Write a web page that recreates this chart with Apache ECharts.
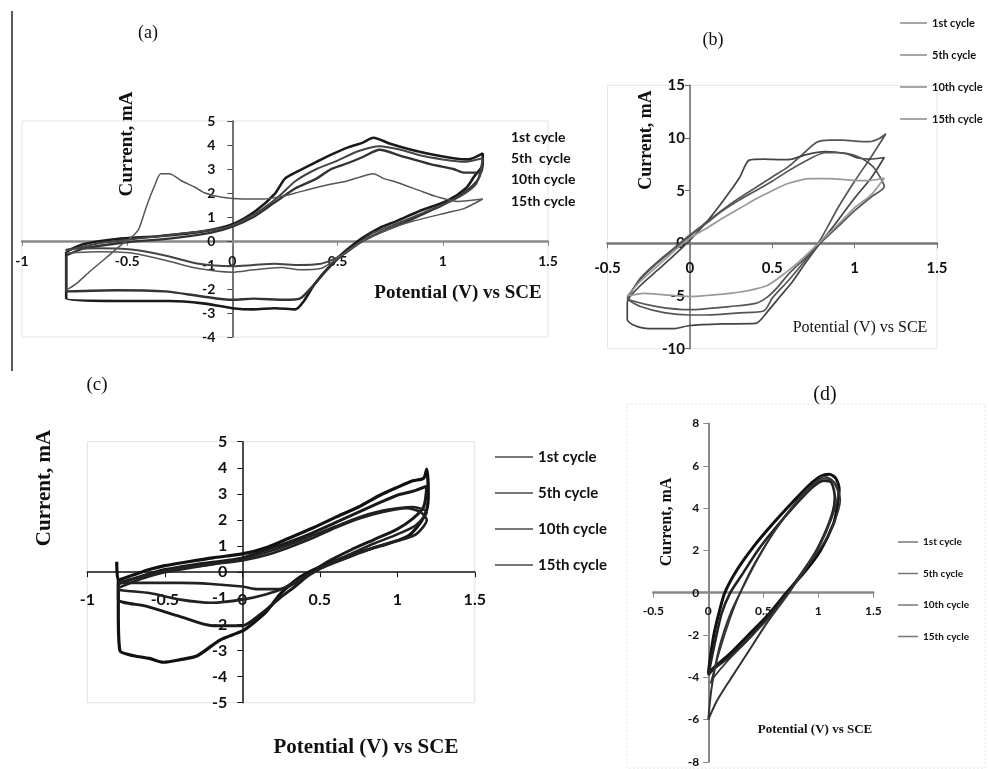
<!DOCTYPE html>
<html>
<head>
<meta charset="utf-8">
<script src="https://cdn.jsdelivr.net/npm/echarts@6/dist/echarts.min.js"></script>
<style>
html, body { margin: 0; padding: 0; background: #fff; }
#chart { width: 989px; height: 769px; }
</style>
</head>
<body>
<div id="chart"></div>
<script>
// legend labels (panel a has its own spacing in "5th  cycle")
var cycleNames = ['1st cycle', '5th cycle', '10th cycle', '15th cycle'];
var cycleNamesA = ['1st cycle', '5th  cycle', '10th cycle', '15th cycle'];

// tick labels of each panel
var aXTicks = [-1, -0.5, 0, 0.5, 1, 1.5];
var aYTicks = [-4, -3, -2, -1, 0, 1, 2, 3, 4, 5];
var bXTicks = [-0.5, 0, 0.5, 1, 1.5];
var bYTicks = [-10, -5, 0, 5, 10, 15];
var cXTicks = [-1, -0.5, 0, 0.5, 1, 1.5];
var cYTicks = [-5, -4, -3, -2, -1, 0, 1, 2, 3, 4, 5];
var dXTicks = [-0.5, 0, 0.5, 1, 1.5];
var dYTicks = [-8, -6, -4, -2, 0, 2, 4, 6, 8];

// panel (a): [potential V, current mA]
var a1st = [[-0.79,-0.45],[-0.71,-0.14],[-0.55,0.08],[-0.35,0.2],[-0.14,0.4],[0,0.7],[0.11,1.25],[0.2,1.95],[0.25,2.6],[0.31,2.9],[0.4,3.3],[0.47,3.6],[0.55,3.9],[0.62,4.1],[0.67,4.3],[0.75,4.05],[0.85,3.8],[0.95,3.6],[1.05,3.45],[1.12,3.4],[1.19,3.65],
  [1.19,3.2],[1.15,2.7],[1.11,2.2],[1.02,1.67],[0.89,1.25],[0.78,0.83],[0.7,0.55],[0.62,0.14],[0.54,-0.4],[0.47,-0.97],[0.39,-1.8],[0.34,-2.5],[0.3,-2.85],[0.2,-2.8],[0.1,-2.85],[0,-2.8],[-0.14,-2.6],[-0.3,-2.5],[-0.55,-2.5],[-0.79,-2.4],[-0.79,-0.45]];
var a5th = [[-0.79,-0.6],[-0.7,-0.3],[-0.5,-0.05],[-0.3,0.1],[-0.1,0.35],[0,0.6],[0.1,1.0],[0.2,1.6],[0.3,2.2],[0.4,2.6],[0.47,3.0],[0.55,3.25],[0.62,3.5],[0.7,3.8],[0.8,3.55],[0.94,3.2],[1.05,3.0],[1.1,2.85],[1.18,2.85],[1.19,3.3],
  [1.17,2.6],[1.1,2.0],[1.0,1.5],[0.9,1.1],[0.8,0.7],[0.7,0.35],[0.6,-0.1],[0.52,-0.6],[0.45,-1.2],[0.38,-1.9],[0.32,-2.4],[0.25,-2.45],[0.1,-2.4],[0,-2.45],[-0.15,-2.3],[-0.32,-2.1],[-0.55,-2.05],[-0.79,-2.1],[-0.79,-0.6]];
var a10th = [[-0.79,-0.4],[-0.64,-0.1],[-0.45,0.1],[-0.25,0.3],[-0.1,0.45],[0,0.65],[0.12,1.2],[0.22,1.85],[0.3,2.5],[0.4,3.0],[0.5,3.35],[0.6,3.75],[0.7,3.95],[0.8,3.8],[0.9,3.55],[1.0,3.4],[1.1,3.3],[1.19,3.45],
  [1.16,2.4],[1.08,1.85],[0.98,1.45],[0.86,1.0],[0.76,0.65],[0.66,0.3],[0.6,-0.1],[0.53,-0.55],[0.47,-0.8],[0.42,-0.95],[0.32,-1.0],[0.2,-0.95],[0.1,-1.0],[0,-1.05],[-0.16,-0.95],[-0.32,-0.6],[-0.48,-0.35],[-0.64,-0.3],[-0.79,-0.35],[-0.79,-0.4]];
var a15th = [[-0.79,-2.05],[-0.745,-1.8],[-0.675,-1.25],[-0.6,-0.7],[-0.52,-0.1],[-0.48,0.15],[-0.445,0.5],[-0.41,1.4],[-0.37,2.3],[-0.34,2.8],[-0.3,2.8],[-0.24,2.5],[-0.18,2.25],[-0.13,2.0],[-0.05,1.82],[0.05,1.75],[0.15,1.75],[0.23,1.85],[0.3,2.0],[0.385,2.2],[0.46,2.35],[0.545,2.5],[0.62,2.7],[0.67,2.8],[0.72,2.6],[0.78,2.45],[0.89,2.1],[0.97,1.85],[1.07,1.65],[1.19,1.75],
  [1.1,1.35],[1.02,1.18],[0.86,0.83],[0.76,0.55],[0.68,0.25],[0.62,0.0],[0.55,-0.4],[0.47,-0.9],[0.42,-1.15],[0.32,-1.2],[0.23,-1.1],[0.1,-1.2],[0,-1.3],[-0.16,-1.15],[-0.32,-0.8],[-0.48,-0.5],[-0.64,-0.45],[-0.79,-0.5]];

// panel (b)
var b1st = [[-0.38,-5.3],[-0.3,-3.3],[-0.2,-1.8],[-0.1,-0.5],[0,0.8],[0.1,2.0],[0.2,3.2],[0.3,4.3],[0.4,5.3],[0.5,6.3],[0.6,7.3],[0.68,8.4],[0.77,9.6],[0.85,9.8],[0.93,9.8],[1.0,9.7],[1.09,9.65],[1.15,9.95],[1.19,10.4],
  [1.1,8.2],[1.0,5.9],[0.9,3.4],[0.79,0.3],[0.7,-1.6],[0.6,-3.5],[0.5,-5.2],[0.45,-6.4],[0.3,-6.6],[0.1,-6.8],[0,-6.8],[-0.15,-6.6],[-0.3,-6.0],[-0.38,-5.3]];
var b5th = [[-0.38,-7.3],[-0.38,-5.6],[-0.3,-4.0],[-0.2,-2.6],[-0.1,-1.2],[0,0.3],[0.1,2.0],[0.2,4.0],[0.3,6.2],[0.36,7.9],[0.45,8.0],[0.55,7.95],[0.62,8.0],[0.7,8.4],[0.82,8.7],[0.95,8.5],[1.02,8.1],[1.09,8.0],[1.18,8.15],
  [1.1,6.2],[1.0,4.3],[0.9,2.2],[0.79,0],[0.7,-1.9],[0.62,-3.7],[0.55,-5.0],[0.47,-6.5],[0.4,-7.6],[0.2,-7.65],[0,-7.8],[-0.1,-8.1],[-0.2,-8.1],[-0.28,-8.05],[-0.35,-7.7],[-0.38,-7.3]];
var b10th = [[-0.38,-5.1],[-0.3,-3.4],[-0.2,-1.9],[-0.1,-0.6],[0,0.7],[0.1,1.9],[0.2,3.1],[0.3,4.1],[0.4,5.0],[0.5,5.9],[0.6,6.9],[0.7,7.8],[0.82,8.6],[0.92,8.6],[0.99,8.4],[1.05,8.0],[1.11,7.3],[1.15,6.4],[1.18,5.4],
  [1.1,4.4],[1.0,3.1],[0.9,1.6],[0.79,0],[0.7,-1.4],[0.6,-2.9],[0.53,-4.2],[0.47,-5.1],[0.4,-5.7],[0.24,-6.0],[0.1,-6.2],[0,-6.3],[-0.2,-6.0],[-0.36,-5.4],[-0.38,-5.1]];
var b15th = [[-0.38,-5.0],[-0.3,-3.6],[-0.2,-2.2],[-0.1,-0.8],[0,0.5],[0.1,1.4],[0.2,2.4],[0.3,3.3],[0.4,4.2],[0.5,5.0],[0.6,5.7],[0.73,6.15],[0.85,6.15],[0.97,6.0],[1.08,5.95],[1.18,6.2],
  [1.1,4.6],[1.0,3.4],[0.9,1.8],[0.78,0],[0.68,-1.5],[0.58,-2.8],[0.47,-4.0],[0.35,-4.5],[0.24,-4.75],[0.1,-4.95],[0,-5.05],[-0.15,-4.9],[-0.28,-4.75],[-0.38,-5.0]];

// panel (c)
var c1st = [[-0.81,0.4],[-0.8,-0.3],[-0.7,-0.1],[-0.6,0.1],[-0.5,0.25],[-0.35,0.4],[-0.19,0.55],[0,0.7],[0.157,0.95],[0.3,1.3],[0.458,1.7],[0.6,2.1],[0.75,2.5],[0.888,2.95],[1.0,3.25],[1.1,3.5],[1.17,3.6],[1.19,3.95],
  [1.2,3.0],[1.19,2.4],[1.15,1.9],[1.06,1.35],[0.888,1.0],[0.673,0.6],[0.5,0.2],[0.37,-0.2],[0.243,-0.85],[0.157,-1.5],[0.06,-2.0],[0,-2.25],[-0.144,-2.6],[-0.29,-3.2],[-0.4,-3.35],[-0.51,-3.45],[-0.6,-3.3],[-0.7,-3.2],[-0.79,-3.0],[-0.8,-1.5],[-0.8,-0.3]];
var c5th = [[-0.8,-0.45],[-0.65,-0.15],[-0.5,0.1],[-0.3,0.3],[-0.1,0.45],[0,0.55],[0.15,0.85],[0.3,1.15],[0.45,1.5],[0.6,1.9],[0.75,2.3],[0.9,2.7],[1.0,2.95],[1.1,3.1],[1.19,3.3],
  [1.17,2.5],[1.1,2.05],[1.0,1.65],[0.85,1.25],[0.7,0.85],[0.55,0.4],[0.45,0.0],[0.35,-0.5],[0.24,-1.0],[0.12,-1.6],[0,-2.05],[-0.19,-2.05],[-0.4,-1.7],[-0.62,-1.3],[-0.8,-1.05],[-0.8,-0.45]];
var c10th = [[-0.8,-0.6],[-0.65,-0.25],[-0.5,0.0],[-0.3,0.2],[-0.1,0.4],[0,0.5],[0.15,0.75],[0.3,1.05],[0.45,1.4],[0.6,1.75],[0.75,2.1],[0.9,2.35],[1.0,2.45],[1.1,2.5],[1.19,2.3],
  [1.12,1.8],[1.0,1.45],[0.85,1.1],[0.7,0.7],[0.55,0.3],[0.42,-0.15],[0.3,-0.55],[0.15,-0.85],[0,-1.05],[-0.2,-1.17],[-0.4,-1.05],[-0.6,-0.8],[-0.8,-0.66],[-0.8,-0.6]];
var c15th = [[-0.8,-0.4],[-0.6,-0.1],[-0.4,0.15],[-0.2,0.3],[0,0.45],[0.15,0.65],[0.3,0.95],[0.45,1.3],[0.6,1.7],[0.75,2.05],[0.9,2.3],[1.06,2.45],[1.15,2.3],[1.19,2.0],
  [1.12,1.45],[1.0,1.2],[0.85,0.95],[0.7,0.6],[0.55,0.25],[0.42,-0.1],[0.33,-0.4],[0.24,-0.65],[0.1,-0.65],[0,-0.55],[-0.2,-0.45],[-0.4,-0.41],[-0.6,-0.41],[-0.8,-0.41],[-0.8,-0.4]];

// panel (d)
var d1st = [[0,-3.8],[0.02,-3.0],[0.05,-2.0],[0.1,-0.9],[0.15,0],[0.26,1.07],[0.41,2.17],[0.59,3.28],[0.77,4.3],[0.92,5.1],[1.02,5.5],[1.1,5.6],[1.16,5.4],[1.19,4.9],[1.17,4.0],
  [1.14,3.28],[1.02,2.0],[0.89,1.07],[0.71,0],[0.53,-1.13],[0.35,-2.08],[0.2,-2.87],[0.08,-3.4],[0,-3.8]];
var d5th = [[0,-3.9],[0.05,-2.6],[0.12,-1.0],[0.2,0],[0.3,0.8],[0.45,2.0],[0.6,3.0],[0.8,4.2],[0.95,5.0],[1.05,5.3],[1.12,5.2],[1.15,4.5],[1.13,3.8],
  [1.05,2.7],[0.95,1.7],[0.72,0],[0.55,-1.1],[0.38,-2.1],[0.2,-3.0],[0.05,-3.6],[0,-3.9]];
var d10th = [[0.02,-4.3],[0.1,-2.8],[0.2,-1.2],[0.29,0],[0.4,1.2],[0.55,2.5],[0.7,3.6],[0.9,4.8],[1.05,5.4],[1.15,5.2],[1.2,4.4],
  [1.1,2.8],[0.95,1.6],[0.73,0],[0.55,-1.2],[0.35,-2.3],[0.18,-3.2],[0.05,-4.0],[0.02,-4.3]];
var d15th = [[0,-6.0],[0.03,-4.5],[0.1,-2.6],[0.2,-1.0],[0.3,0.1],[0.45,1.6],[0.6,2.9],[0.8,4.3],[0.95,5.1],[1.05,5.5],[1.13,5.3],[1.18,4.7],
  [1.12,3.5],[1.0,2.1],[0.85,0.9],[0.72,-0.1],[0.53,-1.45],[0.35,-2.9],[0.2,-4.1],[0.08,-5.1],[0,-6.0]];

var SANS = 'Lato, "DejaVu Sans", sans-serif';
var NARROW = '"Liberation Sans Narrow", Lato, sans-serif';
var SERIF = '"Liberation Serif", "DejaVu Serif", serif';

// plot boxes of the four panels
var grids = [
  { left: 22, top: 121, width: 526, height: 216, show: true, borderColor: '#e2e2e2', borderWidth: 1 },
  { left: 607.5, top: 85.3, width: 329.5, height: 263.4, show: true, borderColor: '#e6e6e6', borderWidth: 1 },
  { left: 87.3, top: 441.7, width: 387.5, height: 261, show: true, borderColor: '#e2e2e2', borderWidth: 1 },
  { left: 653.3, top: 423.5, width: 220, height: 338.4, show: false }
];
grids.forEach(function (g) { g.outerBoundsMode = 'none'; g.containLabel = false; });

function scaleFrom(ticks) {
  return { min: ticks[0], max: ticks[ticks.length - 1], interval: ticks[1] - ticks[0] };
}

// axes cross at zero: shift the whole axis (line, ticks, labels) to where the other axis is 0
function valueAxis(dim, ticks, otherTicks, g, s) {
  var sc = scaleFrom(ticks);
  var other = scaleFrom(otherTicks);
  var span = dim === 'x' ? grids[g].height : grids[g].width;
  var frac = (0 - other.min) / (other.max - other.min);
  return {
    type: 'value', gridIndex: g, min: sc.min, max: sc.max, interval: sc.interval,
    position: dim === 'x' ? 'bottom' : 'left',
    offset: -span * frac,
    splitLine: { show: false },
    axisLine: { show: true, onZero: false, lineStyle: { color: s.color, width: s.width } },
    axisTick: { show: true, length: 5, lineStyle: { color: s.color, width: 1 } },
    axisLabel: { margin: s.margin, fontSize: s.size, fontWeight: 'bold', fontFamily: s.font, color: '#111' }
  };
}

var chart = echarts.init(document.getElementById('chart'));

var series = [];
function addLoop(prefix, name, data, idx, color, width) {
  series.push({
    name: prefix + name, type: 'line', xAxisIndex: idx, yAxisIndex: idx,
    data: data, symbol: 'none', smooth: 0.25, z: 3,
    lineStyle: { color: color, width: width }, itemStyle: { color: color }
  });
}
addLoop('a|', cycleNamesA[0], a1st, 0, '#1a1a1a', 2.6);
addLoop('a|', cycleNamesA[1], a5th, 0, '#333', 2.4);
addLoop('a|', cycleNamesA[2], a10th, 0, '#444', 2);
addLoop('a|', cycleNamesA[3], a15th, 0, '#555', 1.5);
addLoop('b|', cycleNames[0], b1st, 1, '#555', 1.7);
addLoop('b|', cycleNames[1], b5th, 1, '#444', 1.7);
addLoop('b|', cycleNames[2], b10th, 1, '#555', 1.7);
addLoop('b|', cycleNames[3], b15th, 1, '#999', 1.7);
addLoop('c|', cycleNames[0], c1st, 2, '#111', 3.2);
addLoop('c|', cycleNames[1], c5th, 2, '#1a1a1a', 3);
addLoop('c|', cycleNames[2], c10th, 2, '#222', 2.6);
addLoop('c|', cycleNames[3], c15th, 2, '#222', 2.6);
addLoop('d|', cycleNames[0], d1st, 3, '#111', 3);
addLoop('d|', cycleNames[1], d5th, 3, '#222', 2.6);
addLoop('d|', cycleNames[2], d10th, 3, '#333', 1.6);
addLoop('d|', cycleNames[3], d15th, 3, '#333', 2);

function legendNames(prefix, names) {
  return names.map(function (n) { return prefix + n; });
}
function stripPrefix(name) { return name.slice(2); }

chart.setOption({
  backgroundColor: '#fff',
  animation: false,
  grid: grids,
  xAxis: [
    valueAxis('x', aXTicks, aYTicks, 0, { color: '#8a8a8a', width: 2.5, margin: 13, size: 14, font: SANS }),
    valueAxis('x', bXTicks, bYTicks, 1, { color: '#777', width: 2.5, margin: 17, size: 15, font: NARROW }),
    valueAxis('x', cXTicks, cYTicks, 2, { color: '#111', width: 1.5, margin: 20, size: 16, font: SANS }),
    valueAxis('x', dXTicks, dYTicks, 3, { color: '#888', width: 2.5, margin: 12, size: 12, font: NARROW })
  ],
  yAxis: [
    valueAxis('y', aYTicks, aXTicks, 0, { color: '#444', width: 1.5, margin: 17, size: 14, font: SANS }),
    valueAxis('y', bYTicks, bXTicks, 1, { color: '#666', width: 1.5, margin: 5, size: 15, font: NARROW }),
    valueAxis('y', cYTicks, cXTicks, 2, { color: '#111', width: 1.5, margin: 15, size: 16, font: SANS }),
    valueAxis('y', dYTicks, dXTicks, 3, { color: '#888', width: 2, margin: 9, size: 12, font: NARROW })
  ],
  legend: [
    { data: legendNames('a|', cycleNamesA), formatter: stripPrefix, orient: 'vertical', left: 500, top: 125,
      icon: 'none', itemWidth: 1, itemHeight: 14, itemGap: 7.4, selectedMode: false,
      textStyle: { fontSize: 14, fontWeight: 'bold', fontFamily: SANS, color: '#111' } },
    { data: legendNames('b|', cycleNames), formatter: stripPrefix, orient: 'vertical', left: 895, top: 11,
      icon: 'rect', itemWidth: 27, itemHeight: 1.5, itemGap: 18, selectedMode: false,
      itemStyle: { color: '#888' },
      textStyle: { fontSize: 11, fontWeight: 'bold', fontFamily: NARROW, color: '#111', lineHeight: 14 } },
    { data: legendNames('c|', cycleNames), formatter: stripPrefix, orient: 'vertical', left: 490, top: 444,
      icon: 'rect', itemWidth: 38, itemHeight: 2, itemGap: 20, selectedMode: false,
      itemStyle: { color: '#777' },
      textStyle: { fontSize: 15, fontWeight: 'bold', fontFamily: NARROW, color: '#111', lineHeight: 16 } },
    { data: legendNames('d|', cycleNames), formatter: stripPrefix, orient: 'vertical', left: 893, top: 531,
      icon: 'rect', itemWidth: 20, itemHeight: 1.5, itemGap: 19.5, selectedMode: false,
      itemStyle: { color: '#777' },
      textStyle: { fontSize: 10, fontWeight: 'bold', fontFamily: NARROW, color: '#111', lineHeight: 12 } }
  ],
  graphic: [
    { type: 'line', shape: { x1: 12, y1: 11, x2: 12, y2: 371 }, style: { stroke: '#222', lineWidth: 1.5 } },
    { type: 'rect', shape: { x: 627, y: 404, width: 358, height: 364 }, style: { fill: 'none', stroke: '#e4e4e4', lineWidth: 1, lineDash: [2, 2] } },
    { type: 'text', x: 148, y: 33, style: { text: '(a)', font: '18px ' + SERIF, fill: '#111', align: 'center', verticalAlign: 'middle' } },
    { type: 'text', x: 713, y: 40, style: { text: '(b)', font: '18px ' + SERIF, fill: '#111', align: 'center', verticalAlign: 'middle' } },
    { type: 'text', x: 97, y: 385, style: { text: '(c)', font: '19px ' + SERIF, fill: '#111', align: 'center', verticalAlign: 'middle' } },
    { type: 'text', x: 825, y: 395, style: { text: '(d)', font: '20px ' + SERIF, fill: '#111', align: 'center', verticalAlign: 'middle' } },
    { type: 'text', x: 127, y: 144, rotation: Math.PI / 2, style: { text: 'Current, mA', font: 'bold 19px ' + SERIF, fill: '#111', align: 'center', verticalAlign: 'middle' } },
    { type: 'text', x: 458, y: 293, style: { text: 'Potential (V) vs SCE', font: 'bold 19px ' + SERIF, fill: '#111', align: 'center', verticalAlign: 'middle' } },
    { type: 'text', x: 646, y: 140, rotation: Math.PI / 2, style: { text: 'Current, mA', font: 'bold 18px ' + SERIF, fill: '#111', align: 'center', verticalAlign: 'middle' } },
    { type: 'text', x: 860, y: 328, style: { text: 'Potential (V) vs SCE', font: '16px ' + SERIF, fill: '#111', align: 'center', verticalAlign: 'middle' } },
    { type: 'text', x: 45, y: 488, rotation: Math.PI / 2, style: { text: 'Current, mA', font: 'bold 21px ' + SERIF, fill: '#111', align: 'center', verticalAlign: 'middle' } },
    { type: 'text', x: 366, y: 748, style: { text: 'Potential (V) vs SCE', font: 'bold 21px ' + SERIF, fill: '#111', align: 'center', verticalAlign: 'middle' } },
    { type: 'text', x: 667, y: 522, rotation: Math.PI / 2, style: { text: 'Current, mA', font: 'bold 16px ' + SERIF, fill: '#111', align: 'center', verticalAlign: 'middle' } },
    { type: 'text', x: 815, y: 730, style: { text: 'Potential (V) vs SCE', font: 'bold 13px ' + SERIF, fill: '#111', align: 'center', verticalAlign: 'middle' } }
  ],
  series: series
});
</script>
</body>
</html>
